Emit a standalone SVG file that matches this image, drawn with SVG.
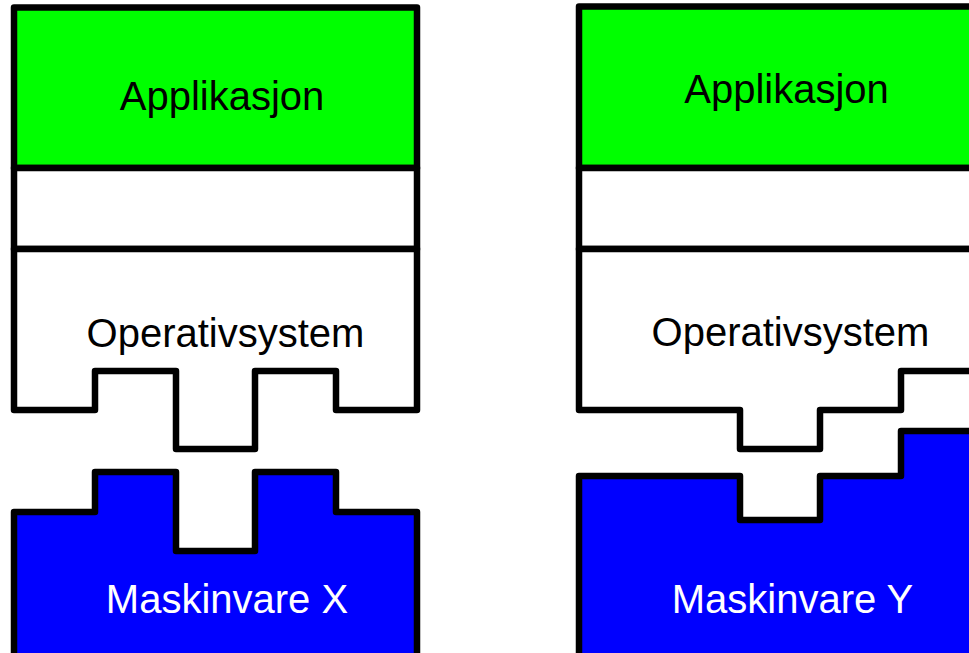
<svg xmlns="http://www.w3.org/2000/svg" width="969" height="653" viewBox="0 0 969 653">
  <style>
    .box { stroke: #000; stroke-width: 6.5; stroke-linejoin: round; }
    .app { fill: #00ff00; }
    .plain { fill: #fff; }
    .hw { fill: #0000ff; }
    .lbl { font-family: "Liberation Sans", Arial, sans-serif; font-size: 40px; text-anchor: middle; }
    .dark { fill: #000; }
    .light { fill: #fff; }
  </style>
  <rect width="969" height="653" fill="#fff"/>

  <!-- Stack X -->
  <g id="app-x">
    <rect class="box app" x="14" y="7.5" width="403" height="160.5"/>
    <text class="lbl dark" x="222" y="110">Applikasjon</text>
  </g>
  <g id="layer-x">
    <rect class="box plain" x="14" y="168" width="403" height="81"/>
  </g>
  <g id="os-x">
    <path class="box plain" d="M14,249 H417 V410 H336 V371 H255 V449 H176 V371 H95 V410 H14 Z"/>
    <text class="lbl dark" x="225.5" y="347">Operativsystem</text>
  </g>
  <g id="hw-x">
    <path class="box hw" d="M14,680 V512 H95 V472 H176 V551 H255 V472 H336 V512 H417 V680 Z"/>
    <text class="lbl light" x="227" y="613">Maskinvare X</text>
  </g>

  <!-- Stack Y -->
  <g id="app-y">
    <rect class="box app" x="579" y="6.5" width="420" height="161.5"/>
    <text class="lbl dark" x="786.5" y="103">Applikasjon</text>
  </g>
  <g id="layer-y">
    <rect class="box plain" x="579" y="168" width="420" height="81"/>
  </g>
  <g id="os-y">
    <path class="box plain" d="M579,249 H1000 V371 H901 V410 H820 V449 H740 V410 H579 Z"/>
    <text class="lbl dark" x="790.5" y="346">Operativsystem</text>
  </g>
  <g id="hw-y">
    <path class="box hw" d="M579,680 V476 H740 V520 H820 V476 H901 V431 H1000 V680 Z"/>
    <text class="lbl light" x="792.5" y="613">Maskinvare Y</text>
  </g>
</svg>
